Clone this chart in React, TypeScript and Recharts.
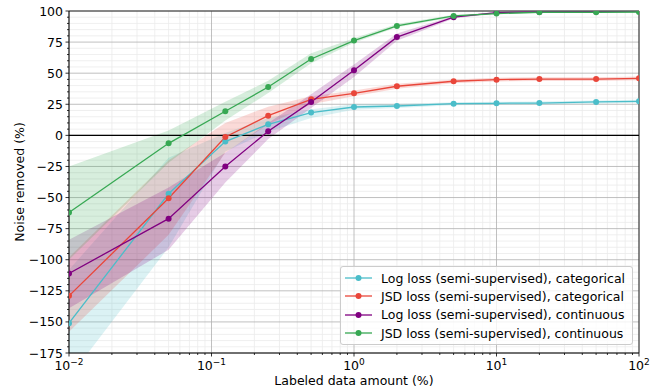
import React from "react";
import {
  ComposedChart,
  Area,
  Line,
  XAxis,
  YAxis,
  CartesianGrid,
  ReferenceLine,
  Legend,
} from "recharts";

// labeled data amount (%), log spaced
const xValues = [0.01, 0.05, 0.125, 0.25, 0.5, 1, 2, 5, 10, 20, 50, 100];

// Log loss (semi-supervised), categorical
const logCatMean = [-151, -47, -5, 8.9, 18.3, 22.8, 23.6, 25.5, 25.8, 26, 26.9, 27.4];
const logCatLow = [-195, -90, -13, 3, 14, 20.5, 22, 24.3, 24.6, 24.8, 25.7, 26.2];
const logCatHigh = [-108, -18, 2, 14, 21, 25, 25.2, 26.7, 27, 27.2, 28.1, 28.6];

// JSD loss (semi-supervised), categorical
const jsdCatMean = [-129, -50.6, -1.3, 15.8, 29, 33.8, 39.5, 43.5, 44.8, 45.3, 45.3, 45.9];
const jsdCatLow = [-158, -80, -14, 9, 25, 31.5, 37.5, 42, 43.3, 43.8, 43.8, 44.4];
const jsdCatHigh = [-98, -20, 10, 23, 31.5, 36, 41.5, 45, 46.3, 46.8, 46.8, 47.4];

// Log loss (semi-supervised), continuous
const logContMean = [-111, -67, -25, 3.3, 26.9, 52.3, 79, 95, 98.7, 99.2, 99.5, 100];
const logContLow = [-139, -92, -38, -3, 22, 47, 76, 94, 98.2, 98.8, 99.2, 99.7];
const logContHigh = [-84, -42, -14, 10, 33, 57, 82, 96, 99.2, 99.6, 99.8, 100.2];

// JSD loss (semi-supervised), continuous
const jsdContMean = [-62, -6.4, 19.4, 38.9, 61.4, 76.2, 88, 96, 97.9, 99, 99, 99.2];
const jsdContLow = [-100, -22, 12, 34, 58, 74.5, 87, 95, 97.4, 98.6, 98.6, 98.8];
const jsdContHigh = [-25, 4, 27, 44, 66, 78, 89.5, 97, 98.4, 99.4, 99.4, 99.6];

const xMajorTicks = [0.01, 0.1, 1, 10, 100];
const xMajorLabels = ["\u22122", "\u22121", "0", "1", "2"];
const yMajorTicks = [-175, -150, -125, -100, -75, -50, -25, 0, 25, 50, 75, 100];

// minor ticks: 2..9 within each decade, every 5 on y
const xMinorTicks: number[] = [];
for (const d of [0.01, 0.1, 1, 10]) {
  for (let k = 2; k <= 9; k++) xMinorTicks.push(+(d * k).toPrecision(3));
}
const yMinorTicks: number[] = [];
for (let v = -175; v <= 100; v += 5) if (v % 25 !== 0) yMinorTicks.push(v);

const series = [
  { key: "logCat", name: "Log loss (semi-supervised), categorical", color: "#4bbdc9", mean: logCatMean, low: logCatLow, high: logCatHigh },
  { key: "jsdCat", name: "JSD loss (semi-supervised), categorical", color: "#e9463a", mean: jsdCatMean, low: jsdCatLow, high: jsdCatHigh },
  { key: "logCont", name: "Log loss (semi-supervised), continuous", color: "#800080", mean: logContMean, low: logContLow, high: logContHigh },
  { key: "jsdCont", name: "JSD loss (semi-supervised), continuous", color: "#37a853", mean: jsdContMean, low: jsdContLow, high: jsdContHigh },
];

const data = xValues.map((x, i) => {
  const row: any = { x };
  series.forEach((s) => {
    row[s.key] = s.mean[i];
    row[s.key + "Band"] = [s.low[i], s.high[i]];
  });
  return row;
});

const FONT = "DejaVu Sans, sans-serif";
const FS = 12.5;

const XTick = ({ x, y, payload }: any) => {
  const idx = xMajorTicks.indexOf(payload.value);
  const major = idx >= 0;
  return (
    <g>
      <line x1={x} x2={x} y1={y} y2={y + (major ? 3.5 : 2)} stroke="#000" strokeWidth={0.8} />
      {major && (
        <text x={x} y={y + 17} textAnchor="middle" fontSize={FS} fontFamily={FONT} fill="#000">
          10
          <tspan dy={-5.5} fontSize={9}>
            {xMajorLabels[idx]}
          </tspan>
        </text>
      )}
    </g>
  );
};

const YTick = ({ x, y, payload }: any) => {
  const major = payload.value % 25 === 0;
  const label = payload.value < 0 ? "\u2212" + Math.abs(payload.value) : String(payload.value);
  return (
    <g>
      <line x1={x} x2={x - (major ? 3.5 : 2)} y1={y} y2={y} stroke="#000" strokeWidth={0.8} />
      {major && (
        <text x={x - 6} y={y + 4.5} textAnchor="end" fontSize={FS} fontFamily={FONT} fill="#000">
          {label}
        </text>
      )}
    </g>
  );
};

const XLabel = () => (
  <text x={354} y={384.5} textAnchor="middle" fontSize={FS} fontFamily={FONT} fill="#000">
    Labeled data amount (%)
  </text>
);

const YLabel = () => (
  <text
    x={24}
    y={182}
    transform="rotate(-90 24 182)"
    textAnchor="middle"
    fontSize={FS}
    fontFamily={FONT}
    fill="#000"
  >
    Noise removed (%)
  </text>
);

const LegendBox = () => (
  <div
    style={{
      background: "rgba(255,255,255,0.8)",
      border: "1px solid #cccccc",
      borderRadius: 3,
      padding: "2px 5px 2px 4px",
      fontFamily: FONT,
      fontSize: FS,
    }}
  >
    {series.map((s) => (
      <div key={s.key} style={{ display: "flex", alignItems: "center", height: 18.3 }}>
        <svg width={28} height={10} style={{ marginRight: 8, flexShrink: 0 }}>
          <line x1={0} x2={27} y1={5} y2={5} stroke={s.color} strokeWidth={1.3} />
          <circle cx={13.5} cy={5} r={3} fill={s.color} />
        </svg>
        <span style={{ whiteSpace: "nowrap" }}>{s.name}</span>
      </div>
    ))}
  </div>
);

export default function App() {
  return (
    <div style={{ position: "relative", width: 660, height: 387, background: "#fff" }}>
      <style>{`body { margin: 0; }`}</style>
      <ComposedChart
        width={660}
        height={387}
        data={data}
        margin={{ top: 11, right: 21, left: 0, bottom: 0 }}
      >
        <CartesianGrid
          horizontalValues={yMinorTicks}
          verticalValues={xMinorTicks}
          stroke="#ebebeb"
          strokeWidth={0.8}
        />
        <CartesianGrid
          horizontalValues={yMajorTicks}
          verticalValues={xMajorTicks}
          stroke="#b0b0b0"
          strokeWidth={0.8}
        />
        <XAxis
          dataKey="x"
          type="number"
          scale="log"
          domain={[0.01, 100]}
          allowDataOverflow
          ticks={[...xMajorTicks, ...xMinorTicks]}
          interval={0}
          tick={<XTick />}
          tickLine={false}
          tickSize={0}
          tickMargin={0}
          height={34}
          stroke="#000"
          label={{ content: <XLabel /> }}
        />
        <YAxis
          type="number"
          domain={[-175, 100]}
          allowDataOverflow
          ticks={[...yMajorTicks, ...yMinorTicks]}
          interval={0}
          tick={<YTick />}
          tickLine={false}
          tickSize={0}
          tickMargin={0}
          width={69}
          stroke="#000"
          label={{ content: <YLabel /> }}
        />
        {series.map((s) => (
          <Area
            key={s.key + "Band"}
            dataKey={s.key + "Band"}
            type="linear"
            stroke="none"
            fill={s.color}
            fillOpacity={0.2}
            isAnimationActive={false}
            legendType="none"
          />
        ))}
        <ReferenceLine y={0} stroke="#000" strokeWidth={1.3} />
        <ReferenceLine y={100} stroke="#000" strokeWidth={0.8} />
        <ReferenceLine x={100} stroke="#000" strokeWidth={0.8} />
        {series.map((s) => (
          <Line
            key={s.key}
            dataKey={s.key}
            name={s.name}
            type="linear"
            stroke={s.color}
            strokeWidth={1.3}
            dot={{ r: 3, fill: s.color, stroke: "none" }}
            isAnimationActive={false}
          />
        ))}
        <Legend
          layout="horizontal"
          verticalAlign="middle"
          align="center"
          content={<LegendBox />}
          wrapperStyle={{ left: 340, top: 266, width: 293, height: "auto" }}
        />
      </ComposedChart>
    </div>
  );
}
